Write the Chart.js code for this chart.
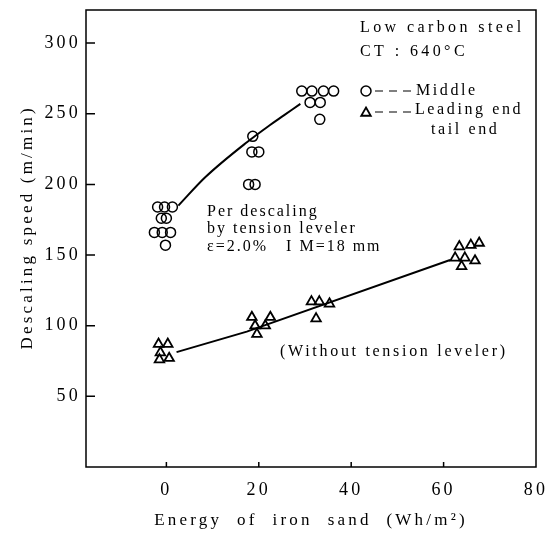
<!DOCTYPE html>
<html><head><meta charset="utf-8">
<script src="https://cdn.jsdelivr.net/npm/chart.js@4/dist/chart.umd.min.js"></script>
<style>html,body{margin:0;padding:0;background:#fff}</style>
</head><body>
<canvas id="c" width="550" height="537"></canvas>
<script>
// ---- data ----
const middleX = [-1.9, -0.4, 1.3, -1.1, 0.0, -2.6, -0.9, 0.9, -0.2, 18.7, 18.5, 20.0, 17.8, 19.2, 29.3, 31.5, 34.0, 36.2, 31.1, 33.3, 33.2];
const middleY = [184, 184, 184, 176, 176, 166, 166, 166, 157, 234, 223, 223, 200, 200, 266, 266, 266, 266, 258, 258, 246];
const leadingX = [-1.7, 0.3, -1.3, -1.5, 0.6, 18.5, 22.5, 19.2, 21.4, 19.6, 31.4, 33.1, 35.3, 32.4, 63.4, 65.9, 67.7, 62.5, 64.6, 66.8, 63.9];
const leadingY = [87, 87, 81, 76, 77, 106, 106, 100, 100, 94, 117, 117, 115.5, 105, 156, 157, 158.5, 148, 148, 146, 142];
const middleFitX = [2.6, 8.4, 17.5, 22, 25.5, 29];
const middleFitY = [185, 205, 230, 241, 249, 257];
const leadingFitX = [2.2, 17.4, 61.4];
const leadingFitY = [81.3, 95.8, 146.5];
const xTickValues = [0, 20, 40, 60, 80];
const yTickValues = [50, 100, 150, 200, 250, 300];
const xAxisTitle = 'Energy  of  iron  sand  (Wh/m²)';
const yAxisTitle = '   Descaling speed (m/min)';
const legendLabels = ['Middle', 'Leading end', 'tail end'];
const noteLines = ['Low carbon steel', 'CT : 640°C'];
const tensionNote = ['Per descaling', 'by tension leveler', 'ε=2.0%   I M=18 mm'];
const withoutNote = '(Without tension leveler)';

const pts = (xs, ys) => xs.map((v, i) => ({x: v, y: ys[i]}));
const SERIF = "'Liberation Serif', 'DejaVu Serif', serif";

const decor = {
  id: 'decor',
  beforeDraw(chart) { chart.ctx.letterSpacing = '3.2px'; },
  afterDraw(chart) {
    const {ctx, chartArea: a, scales: {x, y}} = chart;
    ctx.save();
    ctx.strokeStyle = '#000';
    ctx.lineWidth = 1.5;
    ctx.strokeRect(a.left, a.top, a.right - a.left, a.bottom - a.top);
    ctx.beginPath();
    yTickValues.forEach(v => { const p = y.getPixelForValue(v); ctx.moveTo(a.left, p); ctx.lineTo(a.left + 9, p); });
    xTickValues.forEach(v => { if (v >= x.max) return; const p = x.getPixelForValue(v); ctx.moveTo(p, a.bottom); ctx.lineTo(p, a.bottom - 5); });
    ctx.stroke();

    // legend markers (hollow)
    ctx.fillStyle = 'rgba(0,0,0,0)';
    ctx.lineWidth = 1.5;
    Chart.helpers.drawPoint(ctx, {pointStyle: 'circle', radius: 5, borderWidth: 1.5}, 366, 91);
    ctx.lineWidth = 1.8;
    Chart.helpers.drawPoint(ctx, {pointStyle: 'triangle', radius: 5.5, borderWidth: 1.8}, 366, 113);
    ctx.lineWidth = 1.2;
    ctx.setLineDash([8, 6]);
    ctx.beginPath();
    ctx.moveTo(375, 91); ctx.lineTo(411, 91);
    ctx.moveTo(375, 112); ctx.lineTo(411, 112);
    ctx.stroke();
    ctx.setLineDash([]);

    ctx.fillStyle = '#000';
    ctx.textBaseline = 'middle';
    ctx.textAlign = 'left';
    ctx.font = '16px ' + SERIF;
    ctx.letterSpacing = '3.4px';
    ctx.fillText(noteLines[0], 360, 28);
    ctx.fillText(noteLines[1], 360, 52);
    ctx.letterSpacing = '2.6px';
    ctx.fillText(legendLabels[0], 416, 91);
    ctx.fillText(legendLabels[1], 415, 110);
    ctx.fillText(legendLabels[2], 431, 130);
    ctx.letterSpacing = '2px';
    ctx.fillText(tensionNote[0], 207, 212);
    ctx.fillText(tensionNote[1], 207, 229);
    ctx.fillText(tensionNote[2], 207, 247);
    ctx.letterSpacing = '2.7px';
    ctx.fillText(withoutNote, 280, 352);
    ctx.restore();
  }
};

new Chart(document.getElementById('c'), {
  type: 'scatter',
  data: {
    datasets: [
      {label: 'Middle', data: pts(middleX, middleY), pointStyle: 'circle', pointRadius: 5, borderColor: '#000', backgroundColor: 'rgba(0,0,0,0)', pointBorderWidth: 1.5},
      {label: 'Leading end / tail end', data: pts(leadingX, leadingY), pointStyle: 'triangle', pointRadius: 5.5, borderColor: '#000', backgroundColor: 'rgba(0,0,0,0)', pointBorderWidth: 1.8},
      {label: 'Middle fit', type: 'line', data: pts(middleFitX, middleFitY), borderColor: '#000', borderWidth: 2, pointRadius: 0, cubicInterpolationMode: 'monotone', fill: false},
      {label: 'Leading fit', type: 'line', data: pts(leadingFitX, leadingFitY), borderColor: '#000', borderWidth: 2, pointRadius: 0, tension: 0, fill: false}
    ]
  },
  options: {
    responsive: false,
    animation: false,
    layout: {padding: {left: 0, right: 14, top: 10, bottom: 0}},
    plugins: {legend: {display: false}, tooltip: {enabled: false}},
    scales: {
      x: {
        type: 'linear', min: -17.4, max: 80,
        afterBuildTicks: s => { s.ticks = xTickValues.map(v => ({value: v})); },
        afterFit: s => { s.height = 70; s.paddingLeft = 0; s.paddingRight = 0; },
        grid: {display: false, drawTicks: false},
        border: {display: false},
        ticks: {color: '#000', padding: 12, font: {family: SERIF, size: 18}},
        title: {display: true, text: xAxisTitle, color: '#000', font: {family: SERIF, size: 17}, padding: {top: 0, bottom: 6}}
      },
      y: {
        type: 'linear', min: 0, max: 323.4,
        afterBuildTicks: s => { s.ticks = yTickValues.map(v => ({value: v})); },
        afterFit: s => { s.width = 86; s.paddingTop = 0; s.paddingBottom = 0; },
        grid: {display: false, drawTicks: false},
        border: {display: false},
        ticks: {color: '#000', padding: 5, font: {family: SERIF, size: 18}},
        title: {display: true, text: yAxisTitle, color: '#000', font: {family: SERIF, size: 17}, padding: {top: 17, bottom: 0}}
      }
    }
  },
  plugins: [decor]
});
</script>
</body></html>
